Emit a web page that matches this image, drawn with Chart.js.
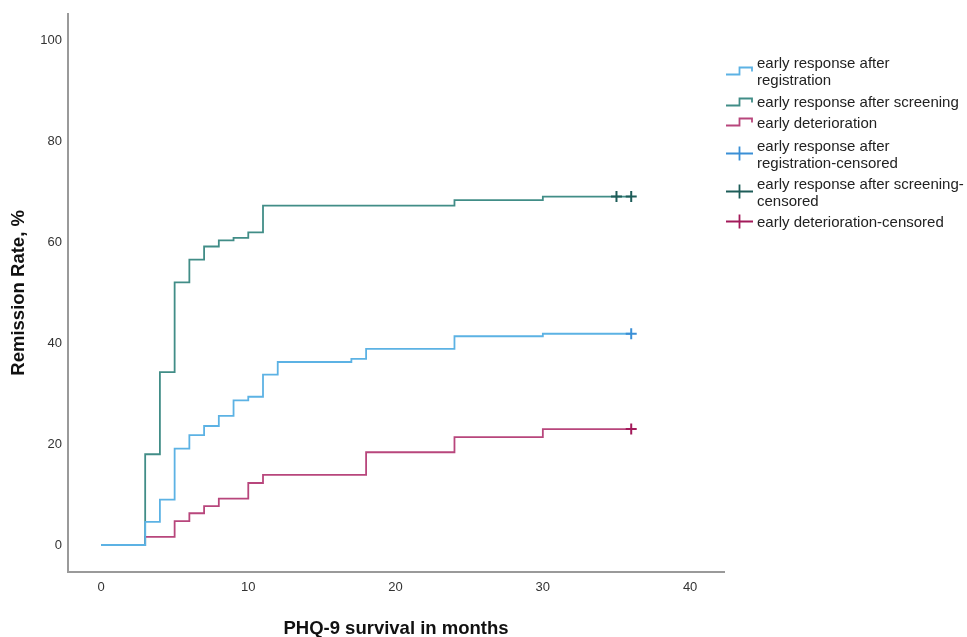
<!DOCTYPE html>
<html><head><meta charset="utf-8">
<script src="https://cdn.jsdelivr.net/npm/chart.js@4.4.1/dist/chart.umd.min.js"></script>
<style>
html,body{margin:0;padding:0;background:#fff;}
#wrap{position:relative;width:967px;height:637px;}
#legend{position:absolute;left:726px;top:0;font-family:"Liberation Sans",Arial,sans-serif;font-size:15px;color:#222;line-height:17px;}
.item{position:absolute;left:0;display:flex;align-items:center;white-space:nowrap;}
.item svg{flex:none;margin-right:4px;}
</style></head>
<body><div id="wrap"><canvas id="c" width="967" height="637"></canvas><div id="legend"></div></div>
<script>
// ---- data ----
const xTicks = [0, 10, 20, 30, 40];
const yTicks = [0, 20, 40, 60, 80, 100];

const regMonths = [0, 3, 4, 5, 6, 7, 8, 9, 10, 11, 12, 17, 18, 24, 30, 36];
const regValues = [0, 4.6, 9.0, 19.1, 21.8, 23.6, 25.6, 28.7, 29.4, 33.8, 36.3, 36.9, 38.9, 41.4, 41.9, 41.9];
const regCensMonths = [36];
const regCensValues = [41.9];

const scrMonths = [0, 3, 4, 5, 6, 7, 8, 9, 10, 11, 24, 30, 36];
const scrValues = [0, 18.0, 34.3, 52.1, 56.6, 59.2, 60.4, 60.9, 62.0, 67.3, 68.4, 69.1, 69.1];
const scrCensMonths = [35, 36];
const scrCensValues = [69.1, 69.1];

const detMonths = [0, 3, 5, 6, 7, 8, 10, 11, 18, 24, 30, 36];
const detValues = [0, 1.6, 4.75, 6.3, 7.7, 9.2, 12.3, 13.9, 18.4, 21.4, 23.0, 23.0];
const detCensMonths = [36];
const detCensValues = [23.0];

const seriesNames = ['early response after registration', 'early response after screening', 'early deterioration',
  'early response after registration-censored', 'early response after screening-censored', 'early deterioration-censored'];
const legendLines = [
  ['early response after', 'registration'],
  ['early response after screening'],
  ['early deterioration'],
  ['early response after', 'registration-censored'],
  ['early response after screening-', 'censored'],
  ['early deterioration-censored']
];

// ---- styles ----
const COL = {
  reg: '#5cb2e4', scr: '#418d87', det: '#b8467c',
  regC: '#3a8fd6', scrC: '#1d5c58', detC: '#a31a5a'
};
const FONT = '"Liberation Sans", Arial, sans-serif';

const pts = (xs, ys) => xs.map((x, i) => ({x: x, y: ys[i]}));

const lineDs = (label, data, color) => ({
  label, data, borderColor: color, backgroundColor: color, borderWidth: 1.8,
  stepped: 'before', pointRadius: 0, fill: false, tension: 0
});
const censDs = (label, data, color) => ({
  label, data, borderColor: color, backgroundColor: color, borderWidth: 2,
  showLine: false, pointStyle: 'cross', pointRadius: 5.5, pointHoverRadius: 5.5
});

new Chart(document.getElementById('c'), {
  type: 'line',
  data: {
    datasets: [
      censDs(seriesNames[3], pts(regCensMonths, regCensValues), COL.regC),
      censDs(seriesNames[4], pts(scrCensMonths, scrCensValues), COL.scrC),
      censDs(seriesNames[5], pts(detCensMonths, detCensValues), COL.detC),
      lineDs(seriesNames[0], pts(regMonths, regValues), COL.reg),
      lineDs(seriesNames[1], pts(scrMonths, scrValues), COL.scr),
      lineDs(seriesNames[2], pts(detMonths, detValues), COL.det)
    ]
  },
  options: {
    responsive: false, animation: false, devicePixelRatio: 1,
    layout: {padding: {left: 0, top: 7, right: 243, bottom: 0}},
    plugins: {legend: {display: false}, tooltip: {enabled: false}},
    scales: {
      x: {
        type: 'linear', min: -2.24, max: 42.3,
        grid: {display: false, drawTicks: false},
        border: {display: true, color: '#9a9a9a', width: 2},
        afterBuildTicks: s => { s.ticks = xTicks.map(v => ({value: v})); },
        ticks: {padding: 8, color: '#333', font: {family: FONT, size: 13}},
        title: {display: true, text: 'PHQ-9 survival in months', color: '#111',
          font: {family: FONT, size: 18.5, weight: 'bold'}, padding: {top: 0, bottom: -3}},
        afterFit: s => { s.height = 65; }
      },
      y: {
        type: 'linear', min: -5.35, max: 105.35,
        grid: {display: false, drawTicks: false},
        border: {display: true, color: '#9a9a9a', width: 2},
        afterBuildTicks: s => { s.ticks = yTicks.map(v => ({value: v})); },
        ticks: {padding: 6, color: '#333', font: {family: FONT, size: 13}},
        title: {display: true, text: 'Remission Rate, %', color: '#111',
          font: {family: FONT, size: 18.5, weight: 'bold'}, padding: {top: 8, bottom: 0}},
        afterFit: s => { s.width = 68; }
      }
    }
  }
});

// ---- HTML legend ----
const legendTops = [54, 93, 113.5, 136.5, 174.5, 212.5];
const legendIcons = ['step', 'step', 'step', 'cross', 'cross', 'cross'];
const legendColors = [COL.reg, COL.scr, COL.det, COL.regC, COL.scrC, COL.detC];
const lg = document.getElementById('legend');
legendLines.forEach((lines, i) => {
  const d = document.createElement('div');
  d.className = 'item';
  d.style.top = legendTops[i] + 'px';
  const c = legendColors[i];
  const svg = legendIcons[i] === 'step'
    ? `<svg width="27" height="10" viewBox="0 0 27 10"><path d="M0 8.5 H13.5 V1.5 H26 V5.5" fill="none" stroke="${c}" stroke-width="1.8"/></svg>`
    : `<svg width="27" height="15" viewBox="0 0 27 15"><path d="M0 7.5 H27 M13.5 0.5 V14.5" fill="none" stroke="${c}" stroke-width="1.8"/></svg>`;
  const txt = document.createElement('div');
  txt.innerHTML = lines.map(t => t.replace(/&/g, '&amp;').replace(/</g, '&lt;')).join('<br>');
  d.innerHTML = svg;
  d.appendChild(txt);
  lg.appendChild(d);
});
</script>
</body></html>
